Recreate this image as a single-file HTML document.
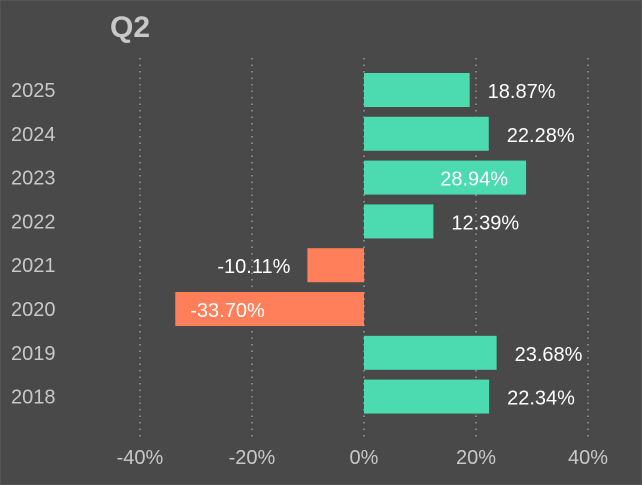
<!DOCTYPE html>
<html><head><meta charset="utf-8"><style>
html,body{margin:0;padding:0;background:#494949;}
svg{display:block;font-family:"Liberation Sans",sans-serif;}
</style></head><body>
<svg id="chart" width="642" height="485">
<rect x="0" y="0" width="642" height="485" fill="#494949" stroke="#5e5e5e"/>
<text x="110" y="37" font-size="30" font-weight="bold" fill="#c8c8c8">Q2</text>
<g id="grid"></g><g id="bars"></g><g id="labels"></g><g id="ticks"></g>
</svg>
<script>
const years = ["2025","2024","2023","2022","2021","2020","2019","2018"];
const values = [18.87,22.28,28.94,12.39,-10.11,-33.70,23.68,22.34];
const tickValues = [-40,-20,0,20,40];
const tickLabels = ["-40%","-20%","0%","20%","40%"];
const NS="http://www.w3.org/2000/svg";
const x = v => 364 + v*5.6;
const y = i => 90 + i*43.8;
const barH = 34;
function mk(tag, attrs, parent){const e=document.createElementNS(NS,tag);for(const k in attrs)e.setAttribute(k,attrs[k]);document.getElementById(parent).appendChild(e);return e;}
tickValues.forEach((t,i)=>{
  const l=mk("line",{x1:x(t),x2:x(t),y1:58,y2:440,stroke:"#9a9a9a","stroke-width":1.5,"stroke-dasharray":"1.5,5"},"grid");
  
  
  const tx=mk("text",{x:x(t),y:464,"text-anchor":"middle","font-size":20,fill:"#c8c8c8"},"ticks");
  tx.textContent=tickLabels[i];
  
  
});
years.forEach((yr,i)=>{
  const v=values[i], cy=y(i);
  const r=mk("rect",{x:Math.min(x(0),x(v)),y:cy-barH/2,width:Math.abs(x(v)-x(0)),height:barH,fill:v>=0?"#4cdbb0":"#ff7f5a"},"bars");
  
  
  const yl=mk("text",{x:11,y:cy+7,"font-size":20,fill:"#c8c8c8"},"labels");
  yl.textContent=yr;
  
  
  const lab=(v>=0?"":"")+v.toFixed(2)+"%";
  const big=Math.abs(v)>25;
  let lx,anchor;
  if(v>=0){ if(big){lx=x(v)-18;anchor="end";} else {lx=x(v)+18;anchor="start";} }
  else { if(big){lx=x(v)+15;anchor="start";} else {lx=x(v)-17;anchor="end";} }
  const vl=mk("text",{x:lx,y:cy+8,"font-size":20,fill:"#ffffff","text-anchor":anchor},"labels");
  vl.textContent=lab;
  
  
});
</script>
</body></html>
